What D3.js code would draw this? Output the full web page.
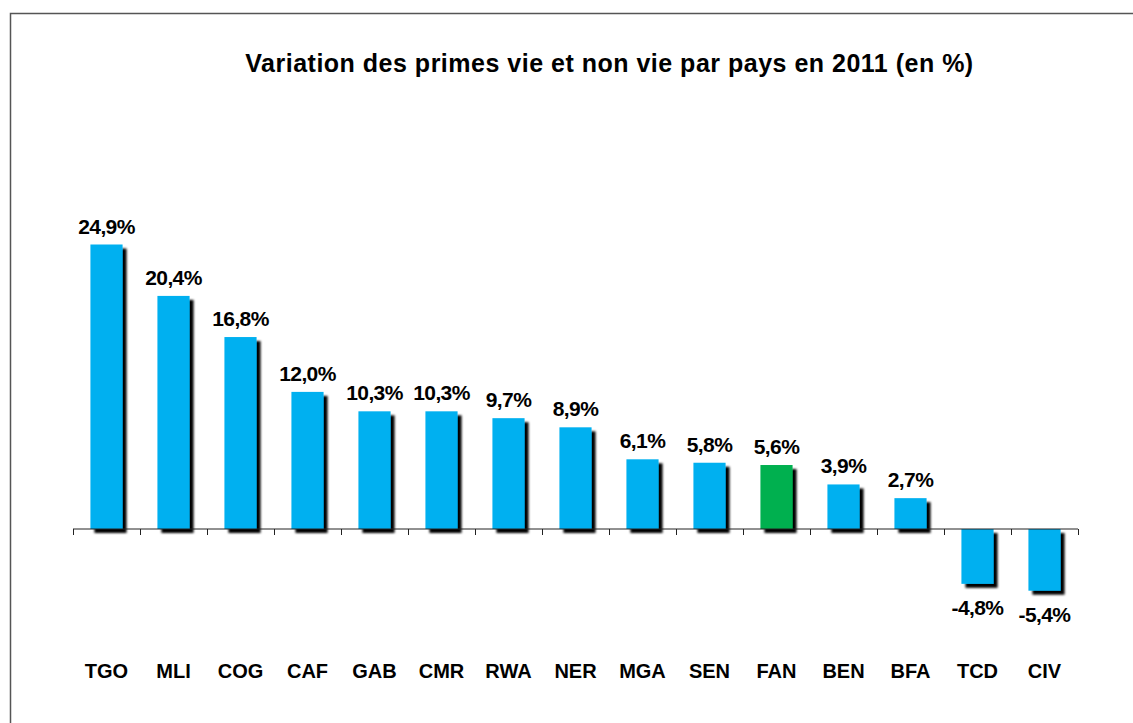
<!DOCTYPE html>
<html>
<head>
<meta charset="utf-8">
<script src="https://cdn.jsdelivr.net/npm/d3@7"></script>
<style>
  body { margin: 0; background: #fff; }
  svg { display: block; font-family: "Liberation Sans", Arial, sans-serif; }
</style>
</head>
<body>
<svg id="chart" width="1133" height="723"></svg>
<script>
const categories = ['TGO', 'MLI', 'COG', 'CAF', 'GAB', 'CMR', 'RWA', 'NER', 'MGA', 'SEN', 'FAN', 'BEN', 'BFA', 'TCD', 'CIV'];
const values = [24.9, 20.4, 16.8, 12.0, 10.3, 10.3, 9.7, 8.9, 6.1, 5.8, 5.6, 3.9, 2.7, -4.8, -5.4];
const highlight = ['FAN'];
const title = 'Variation des primes vie et non vie par pays en 2011 (en %)';

const svg = d3.select('#chart');

// frame of the chart area (right and bottom edges fall outside the picture)
svg.append('rect')
    .attr('x', 10.5)
    .attr('y', 13.5)
    .attr('width', 1200)
    .attr('height', 800)
    .attr('fill', 'none')
    .attr('stroke', '#555')
    .attr('stroke-width', 1.5);

const defs = svg.append('defs');
const shadow = defs.append('filter')
    .attr('id', 'shadow')
    .attr('x', '-20%').attr('y', '-20%')
    .attr('width', '160%').attr('height', '160%');
shadow.append('feDropShadow')
    .attr('dx', 4).attr('dy', 4)
    .attr('stdDeviation', 0.9)
    .attr('flood-color', '#000')
    .attr('flood-opacity', 1);

const x = d3.scaleBand().domain(categories).range([73, 1078]).paddingInner(0.52).paddingOuter(0.26);
const y = d3.scaleLinear().domain([-5.4, 24.9]).range([590.7, 244.5]);

svg.append('text')
    .attr('x', 609.5)
    .attr('y', 71.5)
    .attr('text-anchor', 'middle')
    .style('font-size', '25px')
    .style('font-weight', 'bold')
    .style('letter-spacing', '0.5px')
    .text(title);

// bars
svg.append('g')
    .selectAll('rect')
    .data(values)
    .enter()
    .append('rect')
    .attr('x', (d, i) => x(categories[i]))
    .attr('y', d => y(Math.max(0, d)))
    .attr('width', x.bandwidth())
    .attr('height', d => Math.abs(y(d) - y(0)))
    .attr('fill', (d, i) => highlight.includes(categories[i]) ? '#00B050' : '#00B0F0')
    .attr('filter', 'url(#shadow)');

// axis at zero with tick marks between categories
const axisG = svg.append('g').attr('transform', `translate(0,${y(0)})`);
const step = x.step();
axisG.append('line')
    .attr('x1', 73).attr('x2', 1078)
    .attr('stroke', '#222').attr('stroke-width', 1);
axisG.selectAll('.tk')
    .data(d3.range(categories.length + 1))
    .enter()
    .append('line')
    .attr('x1', i => 73 + i * step + 0.5)
    .attr('x2', i => 73 + i * step + 0.5)
    .attr('y1', 0).attr('y2', 6)
    .attr('stroke', '#222').attr('stroke-width', 1);

// value labels
svg.append('g')
    .selectAll('text')
    .data(values)
    .enter()
    .append('text')
    .attr('x', (d, i) => x(categories[i]) + x.bandwidth() / 2)
    .attr('y', d => d >= 0 ? y(d) - 11 : y(d) + 31)
    .attr('text-anchor', 'middle')
    .style('font-size', '21px')
    .style('font-weight', 'bold')
    .style('letter-spacing', '-0.6px')
    .text(d => d.toFixed(1).replace('.', ',') + '%');

// category labels
svg.append('g')
    .selectAll('text')
    .data(categories)
    .enter()
    .append('text')
    .attr('x', d => x(d) + x.bandwidth() / 2)
    .attr('y', 677.5)
    .attr('text-anchor', 'middle')
    .style('font-size', '20px')
    .style('font-weight', 'bold')
    .text(d => d);
</script>
</body>
</html>
